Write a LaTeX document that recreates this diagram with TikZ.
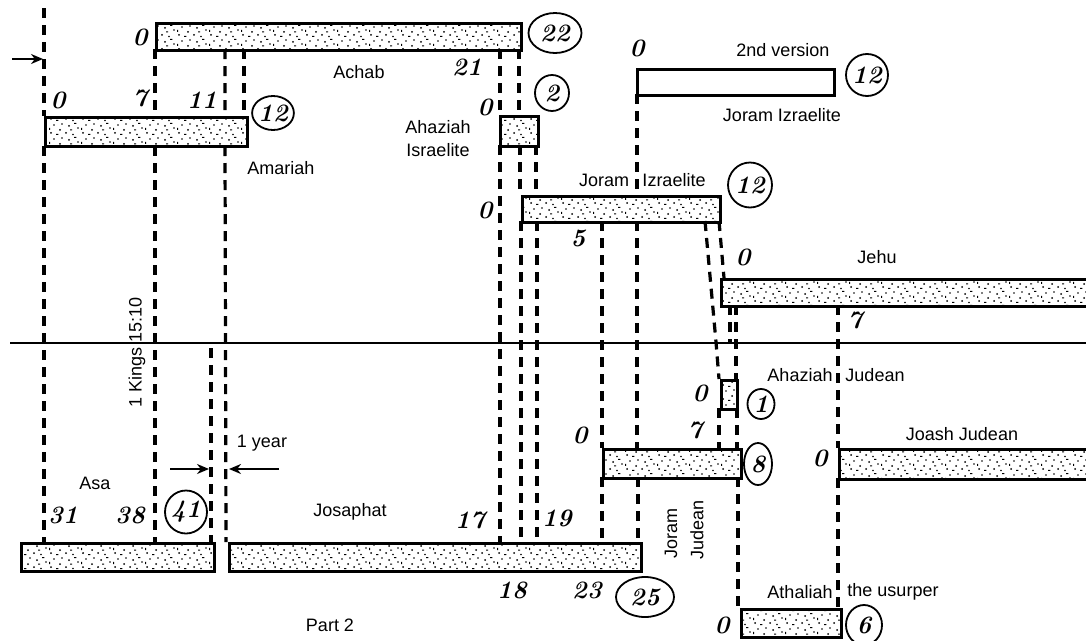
\documentclass[tikz,border=0pt]{standalone}
\usepackage{fontspec}
\setmainfont{Liberation Sans}
\newfontfamily\numfont{Latin Modern Roman}
\usetikzlibrary{patterns,shapes.geometric,arrows.meta}
\pgfdeclarepatternformonly{stipple}{\pgfqpoint{-2pt}{-2pt}}{\pgfqpoint{34pt}{16pt}}{\pgfqpoint{32pt}{14pt}}{%
 \pgfpathcircle{\pgfqpoint{2pt}{3pt}}{1pt}
 \pgfpathcircle{\pgfqpoint{9pt}{1.5pt}}{0.9pt}
 \pgfpathcircle{\pgfqpoint{5pt}{10pt}}{1pt}
 \pgfpathcircle{\pgfqpoint{14pt}{8pt}}{0.9pt}
 \pgfpathcircle{\pgfqpoint{19pt}{3pt}}{1pt}
 \pgfpathcircle{\pgfqpoint{22pt}{11pt}}{0.9pt}
 \pgfpathcircle{\pgfqpoint{28pt}{6pt}}{1pt}
 \pgfpathcircle{\pgfqpoint{30pt}{12pt}}{0.8pt}
 \pgfpathrectangle{\pgfqpoint{10pt}{12pt}}{\pgfqpoint{2.4pt}{1pt}}
 \pgfpathrectangle{\pgfqpoint{24pt}{1pt}}{\pgfqpoint{2.4pt}{1pt}}
 \pgfpathrectangle{\pgfqpoint{17pt}{6pt}}{\pgfqpoint{1pt}{2.2pt}}
 \pgfpathrectangle{\pgfqpoint{6pt}{5.5pt}}{\pgfqpoint{2.2pt}{1pt}}
 \pgfusepath{fill}}
\tikzset{
 bar/.style={draw, line width=3pt, pattern=stipple, inner sep=0pt, anchor=north west},
 hollowbar/.style={draw, line width=3pt, inner sep=0pt, anchor=north west},
 guide/.style={line width=3.2pt, dash pattern=on 10pt off 7pt},
 lbl/.style={font=\fontsize{18}{20}\selectfont, inner sep=0pt},
 num/.style={font=\numfont\bfseries\itshape\fontsize{25}{27}\selectfont, inner sep=0pt},
 ring/.style={ellipse, draw, line width=1.8pt, inner sep=0pt, font=\numfont\bfseries\itshape\fontsize{25}{27}\selectfont},
 yeararrow/.style={-{Stealth[length=12pt,width=10pt]}, line width=2.2pt}
}
\newcommand\barbox[6]{\node[#1, minimum width=#5pt, minimum height=#6pt] (#2) at (#3,#4) {};}
\begin{document}
\begin{tikzpicture}[x=1pt,y=-1pt]
\clip (0,0) rectangle (1086,640);
\fill[white] (0,0) rectangle (1086,640);
% guide lines
\draw[guide] (44,8) -- (44,116) (44,146) -- (44,542);
\draw[guide] (155,49) -- (155,116) (155,146) -- (155,542);
\draw[guide] (225,49) -- (225,116) (225,146) -- (226,542);
\draw[guide] (244,49) -- (244,116);
\draw[guide] (211,348) -- (211,542);
\draw[guide] (500,49) -- (500,115) (500,145) -- (500,542);
\draw[guide] (519,49) -- (519,115) (520,145) -- (520,195) (521,221) -- (521,542);
\draw[guide] (536,145) -- (536,195) (537,221) -- (537,542);
\draw[guide] (602,221) -- (602,448) (602,477) -- (602,542);
\draw[guide] (637,94) -- (637,195) (637,221) -- (637,448) (638,477) -- (638,542);
\draw[guide] (705,221) -- (716,342) -- (719,379);
\draw[guide] (719,221) -- (724,278);
\draw[guide] (730,305) -- (730,342);
\draw[guide] (736,305) -- (736,379);
\draw[guide] (719,408) -- (719,448);
\draw[guide] (737,408) -- (737,448) (738,477) -- (738,608);
\draw[guide] (838,305) -- (838,448) (838,478) -- (838,608);
% horizontal axis
\coordinate (axL) at (10,343);
\coordinate (axR) at (1090,343);
\draw[line width=2.4pt] (axL) -- (axR);
% bars
\barbox{bar}{achab}{155}{22}{365}{27}
\barbox{bar}{amariah}{44}{116}{202}{29}
\barbox{bar}{ahazI}{499}{115}{38}{30}
\barbox{hollowbar}{joramII}{636}{68}{197}{26}
\barbox{bar}{joramI}{521}{195}{198}{26}
\barbox{bar}{jehu}{720}{278}{380}{27}
\barbox{bar}{ahazJ}{720}{379}{16}{29}
\barbox{bar}{joramJ}{602}{448}{138}{29}
\barbox{bar}{joash}{838}{448}{260}{30}
\barbox{bar}{asa}{20}{542}{193}{28}
\barbox{bar}{josaphat}{228}{542}{412}{28}
\barbox{bar}{athaliah}{740}{608}{100}{28}
% arrows
\coordinate (arS) at (12,59);
\coordinate (arE) at (43,59);
\draw[yeararrow] (arS) -- (arE);
\coordinate (y1S) at (170,469);
\coordinate (y1E) at (209,469);
\draw[yeararrow] (y1S) -- (y1E);
\coordinate (y2S) at (279,469);
\coordinate (y2E) at (229,469);
\draw[yeararrow] (y2S) -- (y2E);
% circled numbers
\node[ring, minimum width=53pt, minimum height=40pt] (r22) at (555,33) {22};
\node[ring, minimum width=40pt, minimum height=34pt] (r12a) at (273,113) {12};
\node[ring, minimum width=34pt, minimum height=36pt] (r2) at (552,93) {2};
\node[ring, minimum width=42pt, minimum height=42pt] (r12b) at (867,75) {12};
\node[ring, minimum width=44pt, minimum height=45pt] (r12c) at (750,185) {12};
\node[ring, minimum width=27pt, minimum height=30pt] (r1) at (761,404) {1};
\node[ring, minimum width=28pt, minimum height=42pt] (r8) at (758,464) {8};
\node[ring, minimum width=42pt, minimum height=43pt] (r41) at (186,512) {41};
\node[ring, minimum width=58pt, minimum height=40pt] (r25) at (645,597) {25};
\node[ring, minimum width=36pt, minimum height=40pt] (r6) at (864,625) {6};
% numbers
\node[num] (n1) at (140,37) {0};
\node[num] (n2) at (467,67) {21};
\node[num] (n3) at (58,100) {0};
\node[num] (n4) at (140,98) {7};
\node[num] (n5) at (202,100) {11};
\node[num] (n6) at (485,107) {0};
\node[num] (n7) at (637,48) {0};
\node[num] (n8) at (485,210) {0};
\node[num] (n9) at (578,238) {5};
\node[num] (n10) at (743,257) {0};
\node[num] (n11) at (855,320) {7};
\node[num] (n12) at (700,393) {0};
\node[num] (n13) at (695,430) {7};
\node[num] (n14) at (580,435) {0};
\node[num] (n15) at (820,458) {0};
\node[num] (n16) at (63,515) {31};
\node[num] (n17) at (130,515) {38};
\node[num] (n18) at (470,520) {17};
\node[num] (n19) at (557,518) {19};
\node[num] (n20) at (512,590) {18};
\node[num] (n21) at (587,590) {23};
\node[num] (n22) at (722,625) {0};
% labels
\node[lbl] (lAchab) at (359,72) {Achab};
\node[lbl] (lAmariah) at (281,168) {Amariah};
\node[lbl] (lAhazI1) at (438,127) {Ahaziah};
\node[lbl] (lAhazI2) at (438,150) {Israelite};
\node[lbl] (l2nd) at (783,50) {2nd version};
\node[lbl] (lJorII) at (782,115) {Joram Izraelite};
\node[lbl] (lJorI1) at (604,180) {Joram};
\node[lbl] (lJorI2) at (674,180) {Izraelite};
\node[lbl] (lJehu) at (877,257) {Jehu};
\node[lbl] (lAhazJ1) at (800,375) {Ahaziah};
\node[lbl] (lAhazJ2) at (875,375) {Judean};
\node[lbl] (lJoash) at (962,434) {Joash Judean};
\node[lbl] (lAth1) at (800,592) {Athaliah};
\node[lbl] (lAth2) at (893,592) {the usurper};
\node[lbl] (lAsa) at (95,483) {Asa};
\node[lbl] (lJos) at (350,512) {Josaphat};
\node[lbl] (lYear) at (262,443) {1 year};
\node[lbl, rotate=90] (lKings) at (137,352) {1 Kings 15:10};
\node[lbl, rotate=90] (lJorJ1) at (671,533) {Joram};
\node[lbl, rotate=90] (lJorJ2) at (697,530) {Judean};
\node[lbl] (lPart) at (330,625) {Part 2};
\end{tikzpicture}
\end{document}
